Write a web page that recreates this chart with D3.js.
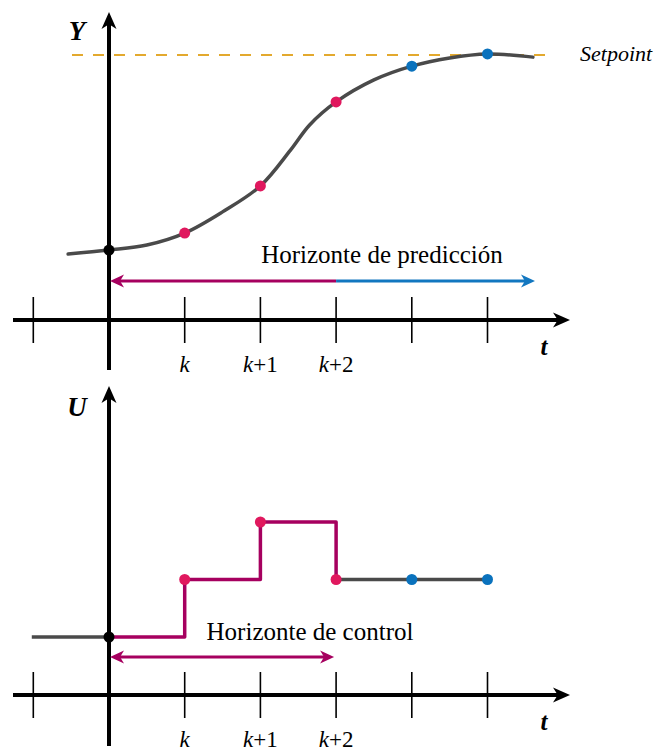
<!DOCTYPE html>
<html><head><meta charset="utf-8">
<script src="https://cdn.jsdelivr.net/npm/d3@7"></script>
<style>body{margin:0;background:#fff}svg{display:block}text{font-family:'Liberation Serif','Times New Roman',serif}</style>
</head><body>
<script>
// ---- data ----
const tickTimes = [-1, 0, 1, 2, 3, 4, 5];
const tickLabels = ["", "", "k", "k+1", "k+2", "", ""];
const setpoint = 1.0;
const curveT = [-0.54, 0, 0.5, 1, 1.5, 2, 2.4, 2.65, 3, 3.5, 4, 4.5, 5, 5.6];
const curveY = [0.249, 0.264, 0.283, 0.328, 0.408, 0.506, 0.642, 0.736, 0.823, 0.906, 0.958, 0.989, 1.004, 0.992];
const predT = [0, 1, 2, 3, 4, 5];
const predY = [0.264, 0.328, 0.506, 0.823, 0.958, 1.004];
const predColor = ["black", "m", "m", "m", "b", "b"];
const uPastT = [-1.02, 0];
const uPast = [0, 0];
const uT = [0, 1, 2, 3];
const uVals = [0, 1, 2, 1];
const uFutT = [3, 4, 5];
const uFut = [1, 1, 1];
const uDotColor = ["black", "m", "m", "m", "b", "b"];
const uDotT = [0, 1, 2, 3, 4, 5];
const uDotV = [0, 1, 2, 1, 1, 1];

const W = 655, H = 754;
const C = {m: "#e0185e", b: "#0a72bd", black: "#000", mag: "#a6005f", blue: "#1277c0", gray: "#4a4a4a", sp: "#e3a92e"};
const svg = d3.select("body").append("svg").attr("width", W).attr("height", H);

const x = d3.scaleLinear().domain([0, 5]).range([109, 487.5]);
const yY = d3.scaleLinear().domain([0, 1]).range([320, 55]);
const yU = d3.scaleLinear().domain([0, 2]).range([637, 522]);

function arrowHead(g, tipX, tipY, angle, color, len, wid) {
  const p = `M0,0 L${-len},${-wid/2} L${-len*0.72},0 L${-len},${wid/2} Z`;
  g.append("path").attr("d", p).attr("fill", color)
    .attr("transform", `translate(${tipX},${tipY}) rotate(${angle})`);
}

function drawAxes(g, axisY, vTop, vBot, yLabel, yLabelY, tY) {
  g.selectAll(".tk").data(tickTimes).join("line")
    .attr("x1", d => x(d)).attr("x2", d => x(d))
    .attr("y1", axisY - 23).attr("y2", axisY + 23)
    .attr("stroke", "#000").attr("stroke-width", 1.6);
  g.append("line").attr("x1", 13).attr("x2", 558).attr("y1", axisY).attr("y2", axisY)
    .attr("stroke", "#000").attr("stroke-width", 4);
  arrowHead(g, 570, axisY, 0, "#000", 17, 15);
  g.append("line").attr("x1", x(0)).attr("x2", x(0)).attr("y1", vTop + 10).attr("y2", vBot)
    .attr("stroke", "#000").attr("stroke-width", 4);
  arrowHead(g, x(0), vTop, -90, "#000", 17, 15);
  g.append("text").attr("x", 77).attr("y", yLabelY).attr("text-anchor", "middle")
    .style("font-style", "italic").style("font-weight", "bold")
    .style("font-size", "27px").text(yLabel);
  g.append("text").attr("x", 544).attr("y", tY).attr("text-anchor", "middle")
    .style("font-style", "italic").style("font-weight", "bold")
    .style("font-size", "25px").text("t");
  const lab = g.selectAll(".tl").data(tickTimes.map((t, i) => ({t, s: tickLabels[i]})).filter(d => d.s))
    .join("text").attr("x", d => x(d.t)).attr("y", axisY + 52).attr("text-anchor", "middle")
    .style("font-size", "23px");
  lab.each(function(d) {
    const el = d3.select(this);
    el.append("tspan").style("font-style", "italic").text("k");
    if (d.s.length > 1) el.append("tspan").text(d.s.slice(1));
  });
}

// ---------- TOP ----------
const gTop = svg.append("g");
drawAxes(gTop, 320, 12, 370, "Y", 40, 355);
gTop.append("line").attr("x1", 72).attr("x2", 555).attr("y1", yY(setpoint)).attr("y2", yY(setpoint))
  .attr("stroke", C.sp).attr("stroke-width", 2).attr("stroke-dasharray", "11,10");
gTop.append("text").attr("x", 580).attr("y", yY(setpoint) + 6)
  .style("font-style", "italic").style("font-size", "22px").text("Setpoint");
const line = d3.line().x(d => x(d[0])).y(d => yY(d[1])).curve(d3.curveCatmullRom.alpha(0.5));
gTop.append("path").datum(curveT.map((t, i) => [t, curveY[i]])).attr("d", line)
  .attr("fill", "none").attr("stroke", C.gray).attr("stroke-width", 3.5).attr("stroke-linecap", "round");
gTop.selectAll(".pd").data(predT.map((t, i) => ({t, v: predY[i], c: predColor[i]}))).join("circle")
  .attr("cx", d => x(d.t)).attr("cy", d => yY(d.v)).attr("r", 5.5).attr("fill", d => C[d.c]);
const pa = 281;
gTop.append("line").attr("x1", x(0) + 10).attr("x2", x(3)).attr("y1", pa).attr("y2", pa)
  .attr("stroke", C.mag).attr("stroke-width", 3);
arrowHead(gTop, x(0) + 1, pa, 180, C.mag, 14, 13);
gTop.append("line").attr("x1", x(3)).attr("x2", 525).attr("y1", pa).attr("y2", pa)
  .attr("stroke", C.blue).attr("stroke-width", 3);
arrowHead(gTop, 535, pa, 0, C.blue, 14, 13);
gTop.append("text").attr("x", 382).attr("y", 263).attr("text-anchor", "middle")
  .style("font-size", "25px").text("Horizonte de predicción");

// ---------- BOTTOM ----------
const gBot = svg.append("g");
drawAxes(gBot, 695, 386, 746, "U", 416, 730);
const step = d3.line().x(d => x(d[0])).y(d => yU(d[1])).curve(d3.curveStepAfter);
gBot.append("path").datum(uPastT.map((t, i) => [t, uPast[i]])).attr("d", step)
  .attr("fill", "none").attr("stroke", C.gray).attr("stroke-width", 3.5);
gBot.append("path").datum(uFutT.map((t, i) => [t, uFut[i]])).attr("d", step)
  .attr("fill", "none").attr("stroke", C.gray).attr("stroke-width", 3.5);
gBot.append("path").datum(uT.map((t, i) => [t, uVals[i]])).attr("d", step)
  .attr("fill", "none").attr("stroke", C.mag).attr("stroke-width", 3.5).attr("stroke-linejoin", "round");
gBot.selectAll(".ud").data(uDotT.map((t, i) => ({t, v: uDotV[i], c: uDotColor[i]}))).join("circle")
  .attr("cx", d => x(d.t)).attr("cy", d => yU(d.v)).attr("r", 5.5).attr("fill", d => C[d.c]);
const ca = 657;
gBot.append("line").attr("x1", x(0) + 10).attr("x2", x(3) - 12).attr("y1", ca).attr("y2", ca)
  .attr("stroke", C.mag).attr("stroke-width", 3);
arrowHead(gBot, x(0) + 1, ca, 180, C.mag, 14, 13);
arrowHead(gBot, x(3) - 2, ca, 0, C.mag, 14, 13);
gBot.append("text").attr("x", 310).attr("y", 640).attr("text-anchor", "middle")
  .style("font-size", "25px").text("Horizonte de control");
</script>
</body></html>
